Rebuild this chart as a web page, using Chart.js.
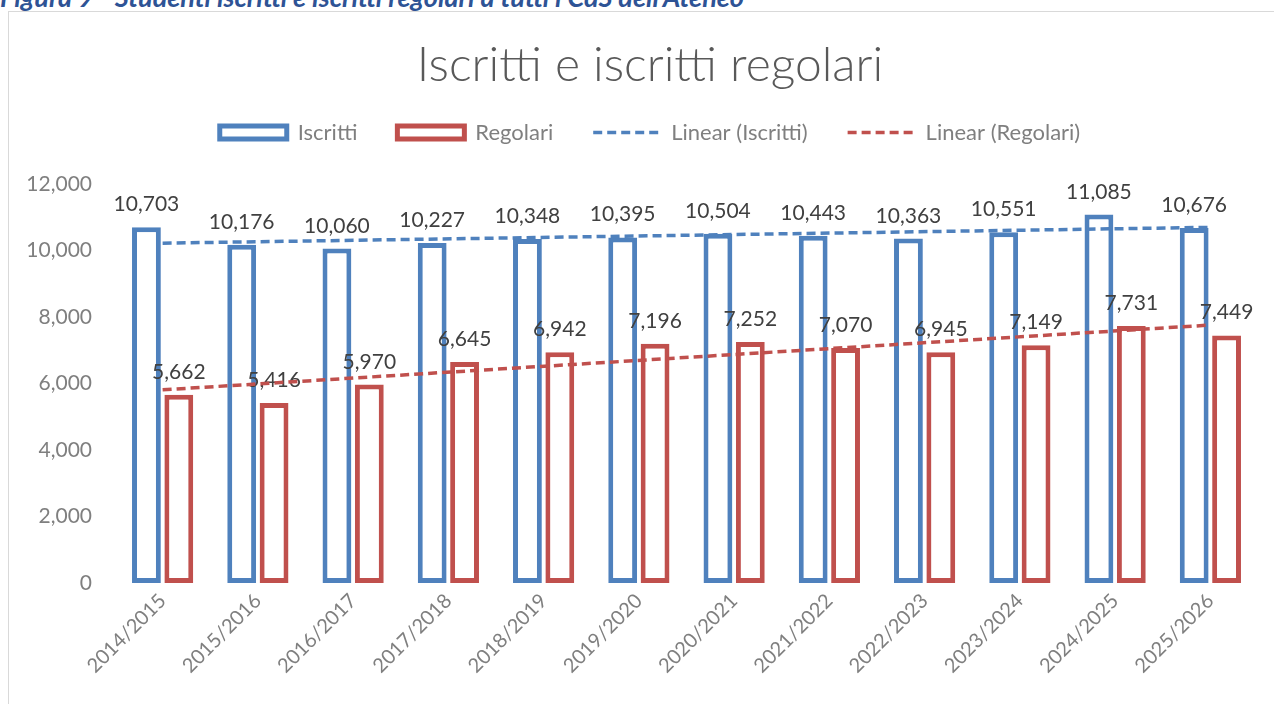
<!DOCTYPE html>
<html>
<head>
<meta charset="utf-8">
<title>Iscritti e iscritti regolari</title>
<script src="https://cdn.jsdelivr.net/npm/chart.js@4"></script>
<style>
  html, body { margin: 0; padding: 0; background: #fff; overflow: hidden; }
  #wrap { position: relative; width: 1274px; height: 704px; overflow: hidden; }
  #caption {
    position: absolute; left: 0; top: -17px; white-space: nowrap;
    font: italic 700 27px/27px Lato, sans-serif; color: #2E5395;
  }
  #frame {
    position: absolute; left: 8px; top: 11px; width: 1400px; height: 800px;
    border: 1px solid #d9d9d9;
  }
  #chart { position: absolute; left: 0; top: 0; }
</style>
</head>
<body>
<div id="wrap">
  <div id="caption">Figura 9 - Studenti iscritti e iscritti regolari a tutti i CdS dell'Ateneo</div>
  <div id="frame"></div>
  <canvas id="chart" width="1274" height="704"></canvas>
</div>
<script>
// Data
const categories = ['2014/2015', '2015/2016', '2016/2017', '2017/2018', '2018/2019', '2019/2020',
  '2020/2021', '2021/2022', '2022/2023', '2023/2024', '2024/2025', '2025/2026'];
const iscritti = [10703, 10176, 10060, 10227, 10348, 10395, 10504, 10443, 10363, 10551, 11085, 10676];
const regolari = [5662, 5416, 5970, 6645, 6942, 7196, 7252, 7070, 6945, 7149, 7731, 7449];
// Trendline end points (first and last category)
const trendIscritti = [10223, null, null, null, null, null, null, null, null, null, null, 10699];
const trendRegolari = [5811, null, null, null, null, null, null, null, null, null, null, 7760];
const yTicks = [0, 2000, 4000, 6000, 8000, 10000, 12000];

const BLUE = '#4F81BD';
const RED = '#C0504D';
const FONT = 'Lato, sans-serif';

const fmt = v => Number(v).toLocaleString('en-US');

// Value labels above the bars. Bars are drawn last-to-first, so once dataset 0
// is done every bar is on the canvas; the trendlines come after and cross the labels.
const barLabels = {
  id: 'barLabels',
  afterDatasetDraw(chart, args) {
    if (args.index !== 0) return;
    const ctx = chart.ctx;
    ctx.save();
    ctx.font = '21px ' + FONT;
    ctx.fillStyle = '#404040';
    ctx.textAlign = 'center';
    ctx.textBaseline = 'alphabetic';
    chart.data.datasets.forEach((ds, di) => {
      if (ds.type !== 'bar') return;
      chart.getDatasetMeta(di).data.forEach((bar, i) => {
        ctx.fillText(fmt(ds.data[i]), bar.x, bar.y - 16);
      });
    });
    ctx.restore();
  }
};

const ctx = document.getElementById('chart').getContext('2d');

new Chart(ctx, {
  type: 'bar',
  data: {
    labels: categories,
    datasets: [
      {
        type: 'bar',
        label: 'Iscritti',
        data: iscritti,
        borderColor: BLUE,
        backgroundColor: '#ffffff',
        borderWidth: 5,
        borderSkipped: false,
        categoryPercentage: 0.68,
        barPercentage: 0.89,
        order: 2
      },
      {
        type: 'bar',
        label: 'Regolari',
        data: regolari,
        borderColor: RED,
        backgroundColor: '#ffffff',
        borderWidth: 5,
        borderSkipped: false,
        categoryPercentage: 0.68,
        barPercentage: 0.89,
        order: 2
      },
      {
        type: 'line',
        label: 'Linear (Iscritti)',
        data: trendIscritti,
        borderColor: BLUE,
        borderWidth: 3.5,
        borderDash: [9, 5],
        pointRadius: 0,
        spanGaps: true,
        fill: false,
        order: 1
      },
      {
        type: 'line',
        label: 'Linear (Regolari)',
        data: trendRegolari,
        borderColor: RED,
        borderWidth: 3.5,
        borderDash: [9, 5],
        pointRadius: 0,
        spanGaps: true,
        fill: false,
        order: 1
      }
    ]
  },
  options: {
    responsive: false,
    devicePixelRatio: 1,
    animation: false,
    layout: { padding: { left: 26, right: 0, top: 0, bottom: 0 } },
    plugins: {
      title: {
        display: true,
        text: 'Iscritti e iscritti regolari',
        color: '#595959',
        font: { family: FONT, size: 48, weight: '300', lineHeight: 1.2 },
        padding: { top: 37, bottom: -13 }
      },
      legend: {
        display: true,
        position: 'top',
        labels: {
          usePointStyle: true,
          pointStyleWidth: 67,
          boxHeight: 13,
          padding: 40,
          color: '#7f7f7f',
          font: { family: FONT, size: 22 },
          generateLabels(chart) {
            return chart.data.datasets.map((ds, i) => ({
              text: ds.label,
              fillStyle: '#ffffff',
              strokeStyle: ds.borderColor,
              lineWidth: ds.type === 'bar' ? 5 : 3.5,
              lineDash: ds.borderDash || [],
              lineCap: 'butt',
              pointStyle: ds.type === 'bar' ? 'rect' : 'line',
              fontColor: '#7f7f7f',
              hidden: false,
              datasetIndex: i
            }));
          }
        }
      },
      tooltip: { enabled: false }
    },
    scales: {
      x: {
        grid: { display: false, drawTicks: false },
        border: { display: false },
        ticks: {
          color: '#7f7f7f',
          font: { family: FONT, size: 20 },
          minRotation: 45,
          maxRotation: 45,
          padding: 6
        },
        afterFit(scale) { scale.height = 121; }
      },
      y: {
        min: 0,
        max: 12000,
        grid: { display: false, drawTicks: false },
        border: { display: false },
        afterBuildTicks(scale) { scale.ticks = yTicks.map(v => ({ value: v })); },
        ticks: {
          color: '#7f7f7f',
          font: { family: FONT, size: 21 },
          padding: 23,
          callback: v => fmt(v)
        },
        afterFit(scale) { scale.width = 89; }
      },
      gapTop: {
        type: 'linear',
        position: 'top',
        grid: { display: false, drawTicks: false },
        border: { display: false },
        ticks: { display: false },
        afterFit(scale) { scale.height = 30.5; }
      },
      gapRight: {
        type: 'linear',
        position: 'right',
        grid: { display: false, drawTicks: false },
        border: { display: false },
        ticks: { display: false },
        afterFit(scale) { scale.width = 16; }
      }
    }
  },
  plugins: [barLabels]
});
</script>
</body>
</html>
